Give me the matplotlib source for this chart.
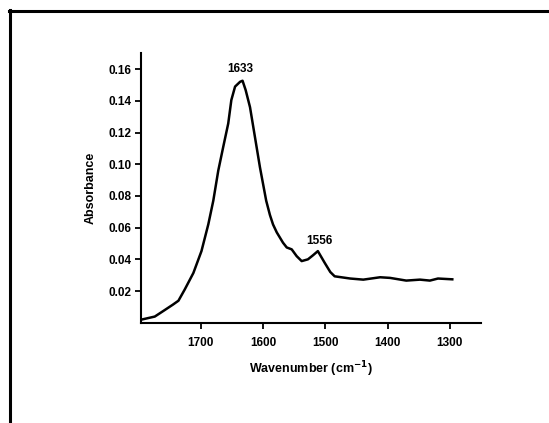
import matplotlib
matplotlib.use("Agg")
import matplotlib.pyplot as plt
from matplotlib.lines import Line2D

plt.rcParams['font.family'] = ['Liberation Sans', 'DejaVu Sans']

# FTIR spectrum
wavenumber = [1793, 1774, 1760, 1745, 1736, 1726, 1712, 1699, 1688, 1680,
              1672, 1664, 1656, 1651, 1645, 1637, 1633, 1628, 1621, 1613,
              1605, 1595, 1589, 1584, 1578, 1568, 1562, 1554, 1546, 1538,
              1528, 1520, 1512, 1501, 1492, 1485, 1460, 1439, 1412, 1396,
              1370, 1348, 1332, 1319, 1296]
absorbance = [0.0022, 0.0039, 0.0075, 0.0114, 0.0139, 0.0209, 0.0314, 0.0452, 0.0621, 0.0770,
              0.0960, 0.1110, 0.1257, 0.1405, 0.1490, 0.1520, 0.1527, 0.1468, 0.1360, 0.1170,
              0.0980, 0.0770, 0.0680, 0.0620, 0.0570, 0.0505, 0.0475, 0.0463, 0.0420, 0.0389,
              0.0400, 0.0425, 0.0452, 0.0378, 0.0320, 0.0293, 0.0279, 0.0272, 0.0287, 0.0283,
              0.0266, 0.0272, 0.0266, 0.0279, 0.0274]

peak_labels = ["1633", "1556"]
peak_label_pos = [(1637, 0.1598), (1509, 0.0516)]

x_ticks = [1700, 1600, 1500, 1400, 1300]
y_ticks = [0.02, 0.04, 0.06, 0.08, 0.10, 0.12, 0.14, 0.16]

fig = plt.figure(figsize=(5.49, 4.23), dpi=100)
ax = fig.add_axes([0.257, 0.237, 0.619, 0.637])

ax.plot(wavenumber, absorbance, color='black', linewidth=1.8)

for lab, (x, y) in zip(peak_labels, peak_label_pos):
    ax.text(x, y, lab, ha='center', va='center', fontsize=8.5, fontweight='bold')

ax.set_xlim(1796, 1250)
ax.set_ylim(0, 0.170)
ax.set_xticks(x_ticks)
ax.set_yticks(y_ticks)
ax.set_yticklabels([f"{v:.2f}" for v in y_ticks])

for s in ['top', 'right']:
    ax.spines[s].set_visible(False)
for s in ['left', 'bottom']:
    ax.spines[s].set_linewidth(1.5)

ax.tick_params(direction='out', length=4, width=1.3, labelsize=8.5, pad=3)
ax.tick_params(axis='x', pad=6)
for lbl in ax.get_xticklabels() + ax.get_yticklabels():
    lbl.set_fontweight('bold')

ax.set_xlabel("Wavenumber (cm$^{\\mathbf{-1}}$)", fontsize=9, fontweight='bold', labelpad=8)
ax.set_ylabel("Absorbance", fontsize=9, fontweight='bold', labelpad=8)

# partial frame around the image (top and left edges)
fig.add_artist(Line2D([8.5 / 549, 1], [1 - 11.5 / 423, 1 - 11.5 / 423],
                      transform=fig.transFigure, color='black', linewidth=2.2))
fig.add_artist(Line2D([9.5 / 549, 9.5 / 549], [0, 1 - 10 / 423],
                      transform=fig.transFigure, color='black', linewidth=2.2))

fig.savefig("out.png", dpi=100)
